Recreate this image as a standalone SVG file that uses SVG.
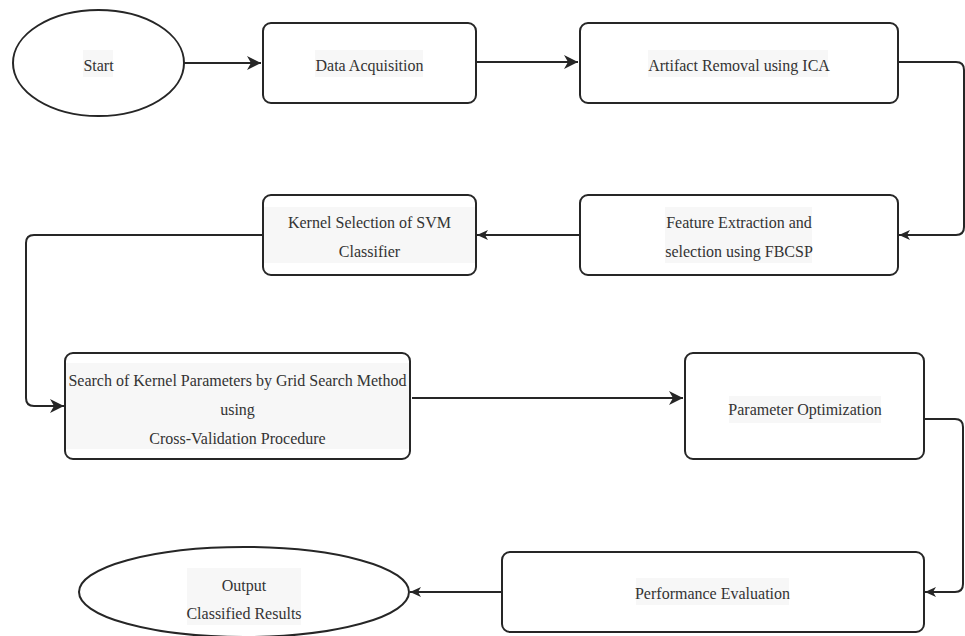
<svg xmlns="http://www.w3.org/2000/svg" width="965" height="636" viewBox="0 0 965 636">
<style>
.box{fill:#ffffff;stroke:#262626;stroke-width:2}
.hl{fill:#f7f7f7}
.t{font-family:'Liberation Serif','Times New Roman','DejaVu Serif',serif;font-size:16px;fill:#333333;text-anchor:middle}
.c{fill:none;stroke:#262626;stroke-width:2}
</style>
<defs>
<marker id="big" markerUnits="userSpaceOnUse" markerWidth="16" markerHeight="14" refX="14" refY="7" orient="auto">
<path d="M0,0 L14,7 L0,14 L4,7 Z" fill="#262626"/>
</marker>
<marker id="small" markerUnits="userSpaceOnUse" markerWidth="12" markerHeight="12" refX="11" refY="6" orient="auto">
<path d="M0,1 L11,6 L0,11 L3,6 Z" fill="#262626"/>
</marker>
</defs>
<rect width="965" height="636" fill="#ffffff"/>
<g id="connectors">
<path class="c" d="M184,63 H261" marker-end="url(#big)"/>
<path class="c" d="M476,62 H578" marker-end="url(#big)"/>
<path class="c" d="M898,62 H956 Q964,62 964,70 V227 Q964,235 956,235 H899" marker-end="url(#small)"/>
<path class="c" d="M580,235 H477" marker-end="url(#small)"/>
<path class="c" d="M263,235 H34 Q26,235 26,243 V398 Q26,406 34,406 H64" marker-end="url(#big)"/>
<path class="c" d="M412,398 H683" marker-end="url(#big)"/>
<path class="c" d="M924,419 H955 Q963,419 963,427 V584 Q963,592 955,592 H925" marker-end="url(#small)"/>
<path class="c" d="M502,592 H410" marker-end="url(#small)"/>
</g>
<g id="start">
<ellipse class="box" cx="98.5" cy="63" rx="85.5" ry="53"/>
<rect class="hl" x="83" y="50" width="30" height="27"/>
<text class="t" x="98.5" y="71">Start</text>
</g>
<g id="data-acquisition">
<rect class="box" x="263" y="23" width="213" height="80" rx="8"/>
<rect class="hl" x="315" y="50" width="108" height="27"/>
<text class="t" x="369.5" y="71">Data Acquisition</text>
</g>
<g id="artifact-removal">
<rect class="box" x="580" y="23" width="318" height="80" rx="8"/>
<rect class="hl" x="648" y="50" width="180" height="27"/>
<text class="t" x="739" y="71">Artifact Removal using ICA</text>
</g>
<g id="feature-extraction">
<rect class="box" x="580" y="195" width="318" height="80" rx="8"/>
<rect class="hl" x="665" y="207" width="147" height="56"/>
<text class="t" x="739" y="228">Feature Extraction and</text>
<text class="t" x="739" y="257">selection using FBCSP</text>
</g>
<g id="kernel-selection">
<rect class="box" x="263" y="195" width="213" height="80" rx="8"/>
<rect class="hl" x="264" y="207" width="211" height="56"/>
<text class="t" x="369.5" y="228">Kernel Selection of SVM</text>
<text class="t" x="369.5" y="257">Classifier</text>
</g>
<g id="grid-search">
<rect class="box" x="65" y="353" width="345" height="106" rx="8"/>
<rect class="hl" x="66" y="363" width="343" height="86"/>
<text class="t" x="237.5" y="386">Search of Kernel Parameters by Grid Search Method</text>
<text class="t" x="237.5" y="415">using</text>
<text class="t" x="237.5" y="444">Cross-Validation Procedure</text>
</g>
<g id="parameter-optimization">
<rect class="box" x="685" y="353" width="239" height="106" rx="8"/>
<rect class="hl" x="729" y="396" width="152" height="27"/>
<text class="t" x="805" y="415">Parameter Optimization</text>
</g>
<g id="performance-evaluation">
<rect class="box" x="502" y="552" width="422" height="80" rx="8"/>
<rect class="hl" x="636" y="578" width="153" height="27"/>
<text class="t" x="712.5" y="599">Performance Evaluation</text>
</g>
<g id="output">
<ellipse class="box" cx="244" cy="592" rx="165" ry="45"/>
<rect class="hl" x="187" y="568" width="114" height="57"/>
<text class="t" x="244" y="591">Output</text>
<text class="t" x="244" y="619">Classified Results</text>
</g>
</svg>
